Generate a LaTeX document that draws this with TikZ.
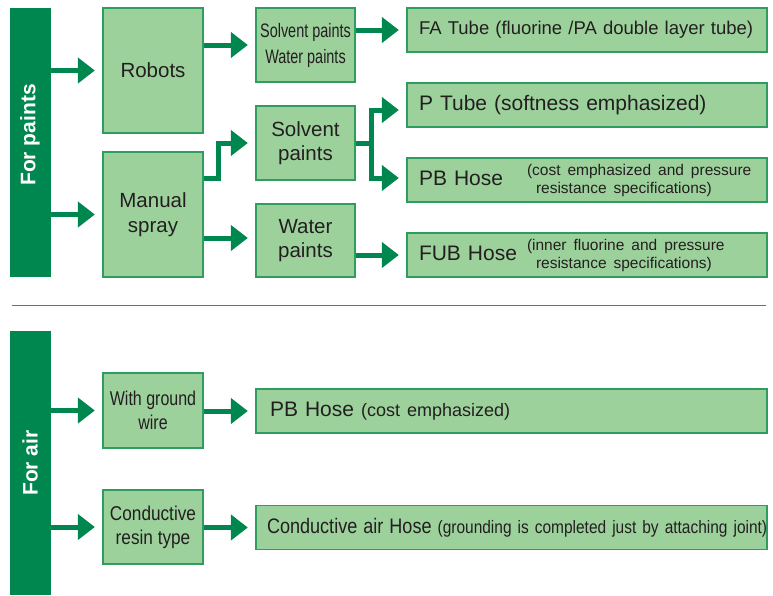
\documentclass[tikz,border=0pt]{standalone}
\usepackage{fontspec}
\setmainfont{Liberation Sans}
\usepackage{graphicx}
\usetikzlibrary{arrows.meta}
\definecolor{dkgreen}{HTML}{00874F}
\definecolor{ltgreen}{HTML}{9DD19C}
\definecolor{edgegreen}{HTML}{2F9D62}
\definecolor{txtgray}{HTML}{231F20}
\definecolor{sepgray}{HTML}{6E6E6E}
\newcommand{\hsqueeze}[2][0.82]{\scalebox{#1}[1]{#2}}

\begin{document}
\begin{tikzpicture}[
    x=1pt, y=-1pt,
    every node/.style={text=txtgray, inner sep=0pt},
    box/.style={draw=edgegreen, fill=ltgreen, line width=1.3pt, align=center,
        font=\fontsize{20.5}{24.5}\selectfont},
    wide/.style={box, align=left, minimum height=44pt, inner xsep=12pt,
        text width=336pt, font=\fontsize{21}{25}\selectfont},
    bar/.style={fill=dkgreen, minimum width=41pt},
    barlabel/.style={rotate=90, text=white, font=\bfseries\fontsize{21}{21}\selectfont},
    arr/.style={draw=dkgreen, line width=5pt,
        -{Triangle[length=17pt,width=25pt]}, shorten >=7.5pt}]
    \useasboundingbox (0,0) rectangle (773,595);

    % Paints section.
    \node[bar, minimum height=269pt] (paints) at (30.5,142.5) {};
    \node[barlabel] (paintslbl) at (30,135) {For paints};
    \node[box, minimum width=100pt, minimum height=125pt] (robots) at (153,70.5) {Robots};
    \node[box, minimum width=100pt, minimum height=125pt] (manual) at (153,214.5) {Manual\\spray};
    \node[box, minimum width=99pt, minimum height=74pt, font=\fontsize{19.5}{26}\selectfont]
        (robopaints) at (305.5,45) {\hsqueeze[0.74]{Solvent paints}\\\hsqueeze[0.74]{Water paints}};
    \node[box, minimum width=99pt, minimum height=74pt] (solvent) at (305.5,143) {Solvent\\paints};
    \node[box, minimum width=99pt, minimum height=73pt] (water) at (305.5,240.5) {Water\\paints};

    \node[wide, font=\fontsize{18.5}{22}\selectfont] (fatube) at (587,30)
        {FA Tube (fluorine /PA double layer tube)};
    \node[wide] (ptube) at (587,105) {P Tube (softness emphasized)};
    \node[wide] (pbhose) at (587,180) {\makebox[108pt][l]{PB Hose}\parbox[c]{225pt}{%
        \raggedright\fontsize{15.5}{18}\selectfont (cost emphasized and pressure\\
        \hspace*{9pt}resistance specifications)}};
    \node[wide] (fubhose) at (587,255) {\makebox[108pt][l]{FUB Hose}\parbox[c]{225pt}{%
        \raggedright\fontsize{15.5}{18}\selectfont (inner fluorine and pressure\\
        \hspace*{9pt}resistance specifications)}};

    % Arrows of the paints section.
    \draw[arr] (paints.east |- robots) -- (robots);
    \draw[arr] (paints.east |- manual) -- (manual);
    \draw[arr] (robots.east |- robopaints) -- (robopaints);
    \coordinate (mout) at (manual.east |- 0,178);
    \coordinate (mbend) at (218,143);
    \draw[arr] (mout) -| (mbend) -- (solvent);
    \draw[arr] (manual.east |- 0,238) -- (water.west |- 0,238);
    \draw[arr] (robopaints.east |- fatube) -- (fatube);
    \coordinate (split) at (371,143);
    \draw[dkgreen, line width=5pt] (solvent.east) -- (split);
    \draw[arr] (split) |- ([yshift=-5pt]ptube.west);
    \draw[arr] (split) |- ([yshift=2pt]pbhose.west);
    \draw[arr] (water.east |- fubhose) -- (fubhose);

    % Separator.
    \draw[sepgray, line width=1.5pt] (12,305.5) -- (766,305.5);

    % Air section.
    \node[bar, minimum height=264pt] (air) at (30.5,463) {};
    \node[barlabel] (airlbl) at (30,463) {For air};
    \node[box, minimum width=100pt, minimum height=75pt, font=\fontsize{20}{24}\selectfont]
        (ground) at (153,410.5) {\hsqueeze[0.8]{With ground}\\\hsqueeze[0.8]{wire}};
    \node[box, minimum width=100pt, minimum height=74pt, font=\fontsize{20}{24}\selectfont]
        (resin) at (153,527) {\hsqueeze[0.86]{Conductive}\\\hsqueeze[0.86]{resin type}};
    \node[wide, text width=483pt, inner xsep=14pt] (pbair) at (511.5,411)
        {PB Hose {\fontsize{18}{22}\selectfont(cost emphasized)}};
    \node[wide, text width=489pt, inner xsep=11pt] (condhose) at (511.5,527.5)
        {\hsqueeze[0.86]{Conductive air Hose {\fontsize{18}{22}\selectfont(grounding is completed just by attaching joint)}}};

    % Arrows of the air section.
    \draw[arr] (air.east |- ground) -- (ground);
    \draw[arr] (air.east |- resin) -- (resin);
    \draw[arr] (ground.east |- pbair) -- (pbair);
    \draw[arr] (resin.east |- condhose) -- (condhose);
\end{tikzpicture}
\end{document}
